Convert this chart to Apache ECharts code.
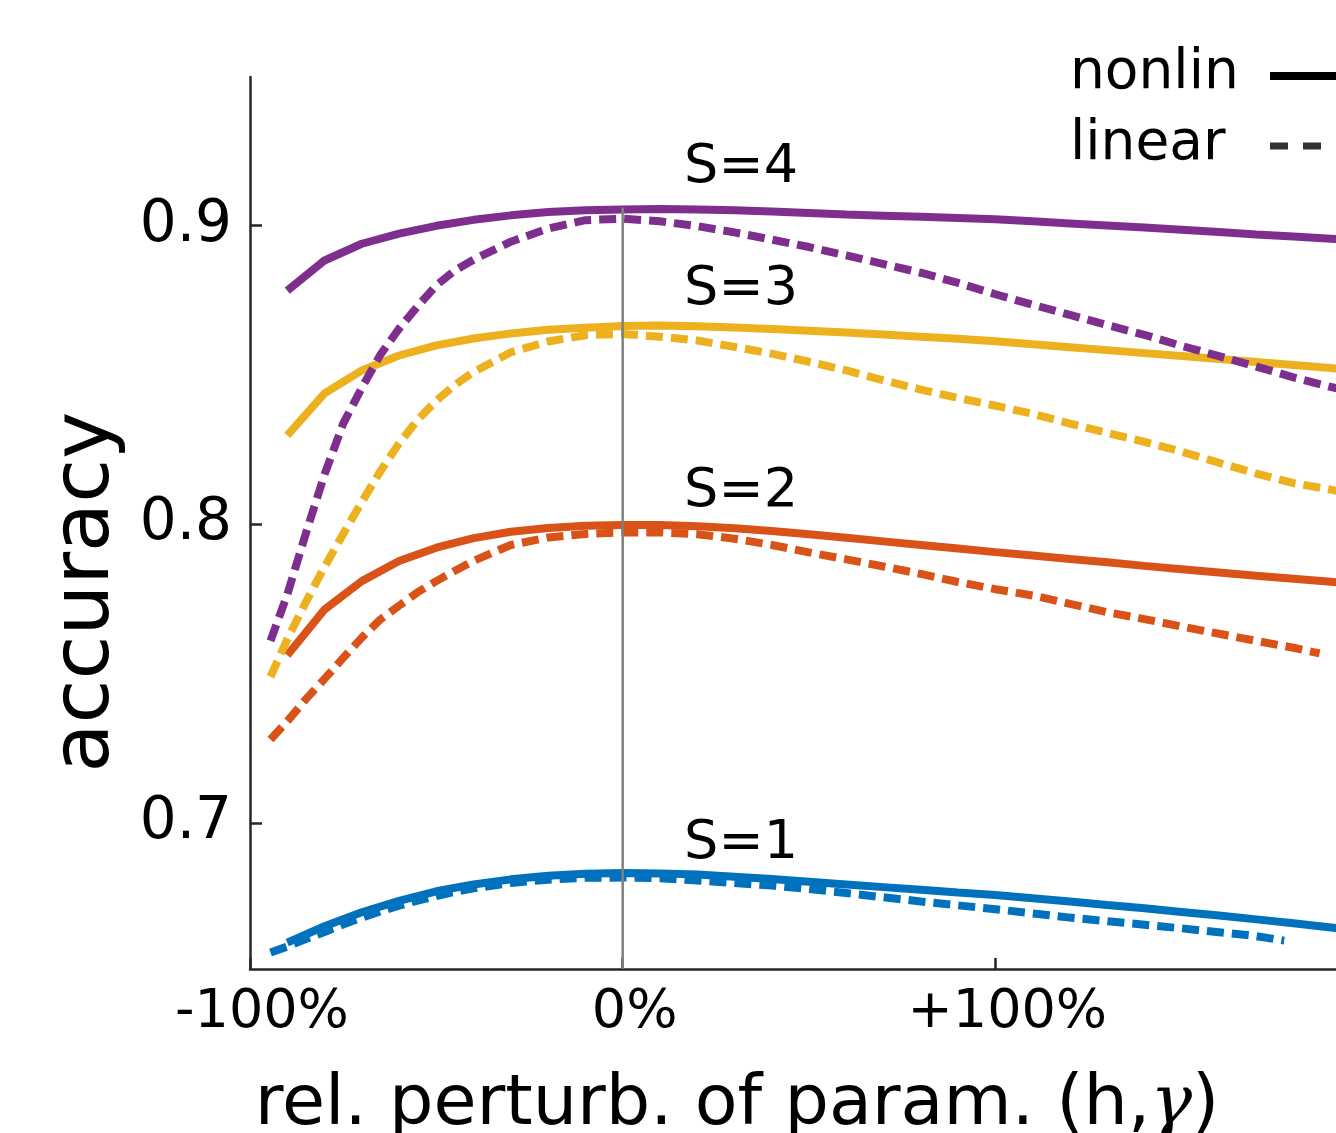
<!DOCTYPE html>
<html>
<head>
<meta charset="utf-8">
<title>accuracy vs parameter perturbation</title>
<script src="https://cdn.jsdelivr.net/npm/echarts@6.0.0/dist/echarts.min.js"></script>
<style>
  html, body { margin: 0; padding: 0; background: #fff; }
  #chart { width: 1336px; height: 1133px; }
</style>
</head>
<body>
<div id="chart"></div>
<script>
// relative perturbation, 1 = +100%
const xSolid = [-0.9, -0.8, -0.7, -0.6, -0.5, -0.4, -0.3, -0.2, -0.1, 0,
  0.1, 0.2, 0.3, 0.4, 0.5, 0.6, 0.7, 0.8, 0.9, 1.0,
  1.1, 1.2, 1.3, 1.4, 1.5, 1.6, 1.7, 1.8, 1.9, 2.0]
const xDash = [-0.945, -0.9, -0.85, -0.8, -0.75, -0.7, -0.65, -0.6, -0.55, -0.5, -0.45, -0.4, -0.3, -0.2, -0.1, 0,
  0.1, 0.2, 0.3, 0.4, 0.5, 0.6, 0.7, 0.8, 0.9, 1.0,
  1.1, 1.2, 1.3, 1.4, 1.5, 1.6, 1.7, 1.8, 1.9, 2.0]

// nonlin (solid)
const nonlinS1 = [0.6600, 0.6655, 0.6702, 0.6740, 0.6772, 0.6795, 0.6812, 0.6824, 0.6831, 0.6833,
  0.6832, 0.6828, 0.6821, 0.6813, 0.6804, 0.6795, 0.6786, 0.6777, 0.6768, 0.6760,
  0.6749, 0.6738, 0.6726, 0.6715, 0.6703, 0.6691, 0.6678, 0.6665, 0.6651, 0.6637]
const nonlinS2 = [0.7562, 0.7715, 0.7810, 0.7877, 0.7922, 0.7954, 0.7975, 0.7988, 0.7995, 0.7998,
  0.7998, 0.7994, 0.7987, 0.7978, 0.7967, 0.7955, 0.7943, 0.7931, 0.7919, 0.7907,
  0.7896, 0.7884, 0.7873, 0.7861, 0.7850, 0.7839, 0.7828, 0.7818, 0.7808, 0.7798]
const nonlinS3 = [0.8298, 0.8438, 0.8515, 0.8565, 0.8599, 0.8622, 0.8639, 0.8651, 0.8658, 0.8664,
  0.8665, 0.8663, 0.8659, 0.8654, 0.8648, 0.8642, 0.8635, 0.8628, 0.8621, 0.8613,
  0.8603, 0.8593, 0.8583, 0.8573, 0.8563, 0.8553, 0.8543, 0.8533, 0.8523, 0.8512]
const nonlinS4 = [0.8782, 0.8883, 0.8939, 0.8973, 0.8999, 0.9019, 0.9034, 0.9045, 0.9051, 0.9054,
  0.9055, 0.9054, 0.9051, 0.9047, 0.9042, 0.9037, 0.9033, 0.9029, 0.9025, 0.9021,
  0.9014, 0.9007, 0.9000, 0.8993, 0.8986, 0.8978, 0.8970, 0.8963, 0.8956, 0.8949]

// linear (dashed)
const linS1 = [0.6567, 0.6587, 0.6612, 0.6636, 0.6661, 0.6684, 0.6705, 0.6724, 0.6741, 0.6756, 0.6770, 0.6782, 0.6800, 0.6811, 0.6817, 0.6818,
  0.6816, 0.6808, 0.6800, 0.6791, 0.6780, 0.6766, 0.6752, 0.6738, 0.6725, 0.6712,
  0.6698, 0.6684, 0.6672, 0.6660, 0.6648, 0.6635, 0.6622]
const linS1End = [1.775, 0.6607]
const linS2 = [0.7280, 0.7341, 0.7415, 0.7483, 0.7553, 0.7621, 0.7682, 0.7728, 0.7773, 0.7810, 0.7845, 0.7878, 0.7931, 0.7956, 0.7968, 0.7973,
  0.7973, 0.7967, 0.7952, 0.7931, 0.7906, 0.7883, 0.7859, 0.7834, 0.7807, 0.7783,
  0.7762, 0.7734, 0.7706, 0.7683, 0.7658, 0.7634, 0.7610, 0.7587]
const linS2End = [1.87, 0.7568]
const linS3 = [0.7490, 0.7615, 0.7740, 0.7858, 0.7968, 0.8075, 0.8178, 0.8271, 0.8350, 0.8414, 0.8467, 0.8510, 0.8576, 0.8612, 0.8633, 0.8637,
  0.8628, 0.8615, 0.8594, 0.8571, 0.8544, 0.8515, 0.8482, 0.8451, 0.8423, 0.8397,
  0.8370, 0.8337, 0.8306, 0.8276, 0.8243, 0.8206, 0.8170, 0.8138, 0.8116, 0.8090]
const linS4 = [0.7610, 0.7765, 0.7970, 0.8167, 0.8337, 0.8457, 0.8568, 0.8655, 0.8730, 0.8800, 0.8850, 0.8886, 0.8946, 0.8990, 0.9018, 0.9023,
  0.9014, 0.8998, 0.8977, 0.8953, 0.8928, 0.8900, 0.8871, 0.8842, 0.8808, 0.8770,
  0.8735, 0.8701, 0.8667, 0.8634, 0.8597, 0.8563, 0.8528, 0.8492, 0.8460, 0.8428]

const sNames = ['S=1', 'S=2', 'S=3', 'S=4']
const sColors = ['#0072BD', '#D95319', '#EDB120', '#7E2F8E']
const sLabelX = [0.1635, 0.1635, 0.1635, 0.1635]
const sLabelY = [0.6930, 0.8110, 0.8783, 0.9192]

const xTicks = [-1, 0, 1]
const xTickLabels = ['-100%', '0%', '+100%']
const yTicks = [0.7, 0.8, 0.9]
const refLineY = [0.6512, 0.906]
const legendNames = ['nonlin', 'linear']

const font = 'DejaVu Sans'
const lineW = 8
const pairs = (xs, ys) => ys.map((y, i) => [xs[i], y])

const nonlin = [nonlinS1, nonlinS2, nonlinS3, nonlinS4]
const lin = [
  pairs(xDash, linS1).concat([linS1End]),
  pairs(xDash, linS2).concat([linS2End]),
  pairs(xDash, linS3),
  pairs(xDash, linS4)
]

const series = []
nonlin.forEach((ys, i) => {
  series.push({
    type: 'line',
    data: pairs(xSolid, ys),
    symbol: 'none',
    silent: true,
    lineStyle: { color: sColors[i], width: lineW }
  })
})
lin.forEach((d, i) => {
  series.push({
    type: 'line',
    data: d,
    symbol: 'none',
    silent: true,
    lineStyle: { color: sColors[i], width: lineW, type: [17, 8] }
  })
})
// reference line at 0%
series.push({
  type: 'line',
  data: [[0, refLineY[0]], [0, refLineY[1]]],
  symbol: 'none',
  silent: true,
  z: 5,
  lineStyle: { color: '#808080', width: 2.5 }
})
// S labels
series.push({
  type: 'scatter',
  data: sNames.map((n, i) => [sLabelX[i], sLabelY[i], n]),
  symbolSize: 1,
  silent: true,
  itemStyle: { color: 'rgba(0,0,0,0)' },
  label: {
    show: true,
    position: 'right',
    distance: 0,
    formatter: p => p.value[2],
    align: 'left',
    verticalAlign: 'middle',
    fontFamily: font,
    fontSize: 54,
    color: '#000',
    opacity: 1
  }
})

const chart = echarts.init(document.getElementById('chart'))
chart.setOption({
  animation: false,
  backgroundColor: '#fff',
  textStyle: { fontFamily: font },
  grid: { left: 250, right: 0, top: 77, bottom: 164, outerBoundsMode: 'none' },
  // legend: text on the left, line sample on the right
  graphic: [
    { type: 'text', left: 1070, top: 46, silent: true,
      style: { text: legendNames[0], font: '55px "DejaVu Sans"', fill: '#000' } },
    { type: 'text', left: 1070, top: 117, silent: true,
      style: { text: legendNames[1], font: '55px "DejaVu Sans"', fill: '#000' } },
    { type: 'line', silent: true,
      shape: { x1: 1270, y1: 76, x2: 1346, y2: 76 },
      style: { stroke: '#000', lineWidth: 8 } },
    { type: 'line', silent: true,
      shape: { x1: 1270, y1: 146, x2: 1346, y2: 146 },
      style: { stroke: '#333', lineWidth: 7, lineDash: [18, 15] } }
  ],
  xAxis: {
    type: 'value',
    min: -1,
    max: 1.914,
    name: '{n|rel. perturb. of param. (h,}{g|γ}{n|)}',
    nameLocation: 'middle',
    nameGap: 102,
    nameTextStyle: {
      padding: [0, 112, 0, 0],
      rich: {
        n: { fontFamily: font, fontSize: 70, color: '#000' },
        g: { fontFamily: 'DejaVu Serif', fontStyle: 'italic', fontSize: 70, color: '#000' }
      }
    },
    splitLine: { show: false },
    axisLine: { onZero: false, lineStyle: { color: '#262626', width: 2.5 } },
    axisTick: { inside: true, length: 11, customValues: xTicks, lineStyle: { color: '#262626', width: 2.5 } },
    axisLabel: {
      customValues: xTicks,
      formatter: v => xTickLabels[xTicks.indexOf(v)] || '',
      fontFamily: font,
      fontSize: 54,
      lineHeight: 54,
      color: '#000',
      margin: 17,
      padding: [0, 0, 0, 24]
    }
  },
  yAxis: {
    type: 'value',
    min: 0.6512,
    max: 0.9497,
    name: 'accuracy',
    nameLocation: 'middle',
    nameRotate: 90,
    nameGap: 123,
    nameTextStyle: { fontFamily: font, fontSize: 80, color: '#000', padding: [0, 138, 0, 0] },
    splitLine: { show: false },
    axisLine: { show: true, onZero: false, lineStyle: { color: '#262626', width: 2.5 } },
    axisTick: { inside: true, length: 12, customValues: yTicks, lineStyle: { color: '#262626', width: 2.5 } },
    axisLabel: {
      customValues: yTicks,
      formatter: v => v.toFixed(1),
      fontFamily: font,
      fontSize: 58,
      color: '#000',
      margin: 18
    }
  },
  series: series
})
</script>
</body>
</html>
